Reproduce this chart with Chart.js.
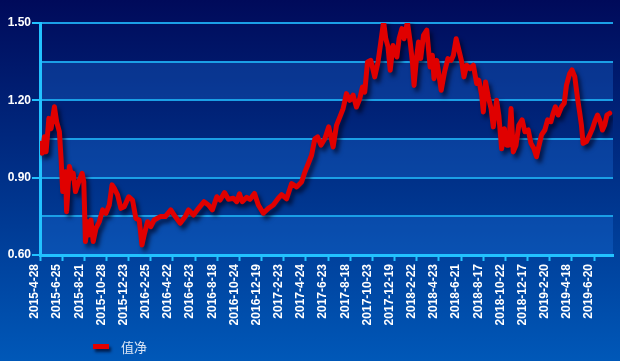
<!DOCTYPE html>
<html><head><meta charset="utf-8">
<script src="https://cdn.jsdelivr.net/npm/chart.js@4.4.1/dist/chart.umd.min.js"></script>
<style>html,body{margin:0;padding:0;background:#02206f;} canvas{display:block}</style>
</head><body>
<canvas id="c" width="620" height="361"></canvas>
<script>
// ---- data ----
const seriesName = '值净';
const tickLabels = ['2015-4-28','2015-6-25','2015-8-21','2015-10-28','2015-12-23','2016-2-25','2016-4-22','2016-6-23','2016-8-18','2016-10-24','2016-12-19','2017-2-23','2017-4-24','2017-6-23','2017-8-18','2017-10-23','2017-12-19','2018-2-22','2018-4-23','2018-6-21','2018-8-17','2018-10-22','2018-12-17','2019-2-20','2019-4-18','2019-6-20'];
const labelEvery = 40;   // trading days between labelled dates
const lastDay = 1034;    // axis end (trading-day index)
const days = [0,4,8,11,16,20,26,30,35,38,41,46,48,53,58,60,64,70,76,79,82,86,89,92,96,101,107,113,119,125,130,134,140,146,152,160,167,173,179,184,188,194,200,206,
217,226,236,244,253,262,268,277,286,296,304,311,319,325,333,340,349,355,360,365,373,379,387,394,403,412,421,430,
436,445,454,463,472,478,484,490,496,501,507,514,521,529,535,541,547,553,559,565,571,577,582,586,591,597,604,610,615,620,624,628,632,637,644,648,
653,657,663,668,672,675,680,683,687,692,698,701,704,708,711,716,724,730,736,742,746,751,756,761,765,770,776,782,788,792,797,800,804,809,814,818,824,828,833,838,842,846,850,854,859,864,
870,875,881,886,891,896,900,905,911,916,922,926,930,935,941,946,950,956,960,965,970,974,977,980,986,992,997,1001,1006,1010,1015,1019,1023,1028];
const nav = [1.033,0.995,1.059,1.000,1.130,1.090,1.175,1.117,1.078,0.975,0.846,0.923,0.768,0.943,0.898,0.917,0.846,0.884,0.917,0.884,0.652,0.729,0.678,0.736,0.652,0.703,0.729,0.775,0.762,0.794,0.872,0.859,0.833,0.781,0.787,0.826,0.813,0.742,0.736,0.639,0.678,0.729,0.710,0.736,
0.749,0.749,0.775,0.749,0.723,0.749,0.775,0.755,0.781,0.807,0.794,0.775,0.826,0.813,0.842,0.816,0.820,0.807,0.837,0.807,0.824,0.816,0.839,0.794,0.762,0.781,0.794,0.820,
0.834,0.818,0.877,0.864,0.883,0.922,0.954,0.987,1.051,1.058,1.026,1.051,1.097,1.019,1.103,1.135,1.168,1.226,1.200,1.220,1.174,1.206,1.252,1.232,1.349,1.355,1.291,1.349,1.426,1.505,1.439,1.407,1.317,1.413,1.368,1.439,
1.478,1.439,1.504,1.426,1.349,1.258,1.375,1.426,1.362,1.452,1.472,1.400,1.329,1.375,1.284,1.355,1.239,1.310,1.362,1.355,1.375,1.439,1.394,1.349,1.291,1.336,1.323,1.336,1.265,1.278,1.220,1.155,1.271,1.213,1.168,1.097,1.200,1.142,1.012,1.090,1.026,1.026,1.168,1.000,1.026,1.103,
1.124,1.078,1.085,1.033,1.014,0.981,1.020,1.066,1.085,1.124,1.117,1.150,1.175,1.143,1.175,1.189,1.259,1.305,1.318,1.292,1.208,1.150,1.104,1.033,1.040,1.066,1.091,1.117,1.143,1.124,1.085,1.104,1.143,1.150];
const yGridValues = [0.60,0.75,0.90,1.05,1.20,1.35,1.50];
const yLabelValues = [0.60,0.90,1.20,1.50];

// ---- styling ----
const AXIS = '#22c2ff';
const GRID = '#1b9fe6';
const LINE = '#e00000';
const isLabeled = v => yLabelValues.some(l => Math.abs(l - v) < 1e-6);

const bgPlugin = {
  id: 'bg',
  beforeDraw(chart) {
    const {ctx, width, height, chartArea: a, scales: {y}} = chart;
    ctx.save();
    const g = ctx.createLinearGradient(0, 0, 0, height);
    g.addColorStop(0, '#000a5a');
    g.addColorStop(1, '#0058b8');
    ctx.fillStyle = g;
    ctx.fillRect(0, 0, width, height);
    const t = y.ticks;
    for (let i = 0; i < t.length - 1; i++) {
      if (i % 2 === 0) {
        const y0 = y.getPixelForValue(t[i].value), y1 = y.getPixelForValue(t[i + 1].value);
        ctx.fillStyle = 'rgba(30,120,230,0.3)';
        ctx.fillRect(a.left, y1, a.right - a.left, y0 - y1);
      }
    }
    ctx.restore();
  }
};
const shadowPlugin = {
  id: 'shadow',
  beforeDatasetsDraw(chart) {
    const c = chart.ctx; c.save();
    c.shadowColor = 'rgba(0,0,25,0.65)'; c.shadowBlur = 4; c.shadowOffsetX = 3; c.shadowOffsetY = 4;
  },
  afterDatasetsDraw(chart) { chart.ctx.restore(); }
};
const legendPlugin = {
  id: 'customLegend',
  afterDraw(chart) {
    const ctx = chart.ctx, ds = chart.data.datasets[0];
    ctx.save();
    ctx.shadowColor = 'rgba(0,0,25,0.65)'; ctx.shadowBlur = 3; ctx.shadowOffsetX = 2; ctx.shadowOffsetY = 3;
    ctx.fillStyle = ds.borderColor;
    ctx.fillRect(93, 344, 16, 5);
    ctx.restore();
    ctx.save();
    ctx.font = '13px "Noto Sans CJK SC"';
    ctx.fillStyle = '#dce6f5';
    ctx.textBaseline = 'middle';
    ctx.fillText(ds.label, 121, 347);
    ctx.restore();
  }
};

new Chart(document.getElementById('c'), {
  type: 'line',
  data: {
    datasets: [{
      label: seriesName,
      data: days.map((d, i) => ({x: d, y: nav[i]})),
      borderColor: LINE,
      backgroundColor: LINE,
      borderWidth: 5,
      pointRadius: 0,
      tension: 0,
      borderJoinStyle: 'round',
      borderCapStyle: 'round',
      fill: false
    }]
  },
  options: {
    responsive: false,
    animation: false,
    devicePixelRatio: 1,
    layout: {padding: {top: 23, right: 7, left: 0, bottom: 0}},
    plugins: {legend: {display: false}, tooltip: {enabled: false}},
    scales: {
      x: {
        type: 'linear', min: 0, max: lastDay,
        afterBuildTicks(scale) { scale.ticks = tickLabels.map((_, i) => ({value: i * labelEvery})); },
        afterFit(scale) { scale.height = 106; },
        ticks: {
          autoSkip: false, minRotation: 90, maxRotation: 90, color: '#ffffff',
          font: {family: '"Liberation Sans", Arial, sans-serif', size: 12, weight: 'bold'},
          padding: 3, labelOffset: -5,
          callback: v => tickLabels[Math.round(v / labelEvery)]
        },
        grid: {drawOnChartArea: false, drawTicks: true, tickLength: 6, tickColor: AXIS, tickWidth: 2},
        border: {display: true, color: AXIS, width: 3}
      },
      y: {
        min: 0.6, max: 1.5,
        afterBuildTicks(scale) { scale.ticks = yGridValues.map(v => ({value: v})); },
        afterFit(scale) { scale.width = 40; },
        ticks: {
          color: '#ffffff', padding: 1,
          font: {family: '"Liberation Sans", Arial, sans-serif', size: 12, weight: 'bold'},
          callback: v => isLabeled(v) ? Number(v).toFixed(2) : ''
        },
        grid: {color: GRID, lineWidth: 2, tickLength: 8, tickWidth: 2,
          tickColor: c => (c.tick && isLabeled(c.tick.value)) ? AXIS : 'rgba(0,0,0,0)'},
        border: {display: true, color: AXIS, width: 3}
      }
    }
  },
  plugins: [bgPlugin, shadowPlugin, legendPlugin]
});
</script>
</body></html>
